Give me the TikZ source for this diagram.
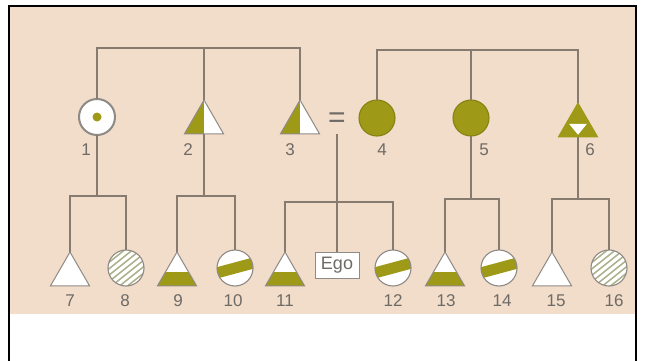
\documentclass[tikz,border=0pt]{standalone}
\usepackage{fontspec}
\setmainfont{Liberation Sans}
\usetikzlibrary{shapes.geometric}
\definecolor{kinbg}{HTML}{F1DDC9}
\definecolor{kinolive}{HTML}{9E9916}
\definecolor{kindark}{HTML}{878312}
\definecolor{kinline}{HTML}{877B70}
\definecolor{kinring}{HTML}{8E8A86}
\definecolor{kintext}{HTML}{6E6A66}
\definecolor{kinhatch}{HTML}{AEB28C}
\tikzset{
  kin/.style={draw=kinline,line width=1.2pt},
  fem/.style={circle,draw=kinring,line width=1.1pt,fill=white,minimum size=36pt,inner sep=0pt,outer sep=0pt},
  mal/.style={regular polygon,regular polygon sides=3,draw=kinring,line width=1pt,fill=white,minimum size=45pt,inner sep=0pt,outer sep=0pt},
  dotted fem/.style={fem,line width=2pt,path picture={\fill[kinolive] (path picture bounding box.center) circle (4.5);}},
  full fem/.style={fem,fill=kinolive,draw=kindark},
  half mal/.style={mal,path picture={\fill[kinolive] (path picture bounding box.south west) rectangle (path picture bounding box.north);}},
  low mal/.style={mal,path picture={\fill[kinolive] (path picture bounding box.south west) rectangle ([yshift=14pt]path picture bounding box.south east);}},
  vee mal/.style={mal,fill=kinolive,draw=kinolive,path picture={\fill[white] ([shift={(-9,13)}]path picture bounding box.south) -- ([shift={(9,13)}]path picture bounding box.south) -- ([shift={(0,2)}]path picture bounding box.south) -- cycle;}},
  band fem/.style={fem,path picture={\begin{scope}[shift={(path picture bounding box.center)}]
      \fill[kinolive] (-22.7,-11.8) -- (25.6,1.2) -- (22.7,11.8) -- (-25.6,-1.2) -- cycle;
    \end{scope}}},
  hatch fem/.style={fem,path picture={\begin{scope}[shift={(path picture bounding box.center)}]
      \foreach \k in {-48,-40,...,48} \draw[kinhatch,line width=1.5pt] (\k-25,-20) -- (\k+25,20);
    \end{scope}}},
  egobox/.style={draw=kinring,line width=1pt,fill=white,minimum width=44pt,minimum height=26pt,inner sep=0pt,text=kintext,font=\fontsize{18}{18}\selectfont},
  num/.style={inner sep=0pt,text=kintext,font=\fontsize{17}{17}\selectfont}
}
\begin{document}
\begin{tikzpicture}[x=1pt,y=1pt]
  \useasboundingbox (0,0) rectangle (645,-361);
  \fill[white] (0,0) rectangle (645,-361);
  \fill[kinbg] (10,-7) rectangle (635,-314);
  \draw[black,line width=2.5pt] (9,-361) -- (9,-6) -- (636,-6) -- (636,-361);

  % parents' generation
  \node[dotted fem] (p1) at (97,-117) {};
  \node[half mal] (p2) at (204,-122.5) {};
  \node[half mal] (p3) at (300,-122.5) {};
  \node[num,font=\fontsize{30}{30}\selectfont] (eq) at (337,-120) {=};
  \node[full fem] (p4) at (377,-118) {};
  \node[full fem] (p5) at (471,-118) {};
  \node[vee mal] (p6) at (578,-125.5) {};

  \node[num] (l1) at (86,-150) {1};
  \node[num] (l2) at (188,-150) {2};
  \node[num] (l3) at (290,-150) {3};
  \node[num] (l4) at (382,-150) {4};
  \node[num] (l5) at (484,-150) {5};
  \node[num] (l6) at (590,-150) {6};

  % ego's generation
  \node[mal] (c7) at (70,-274.5) {};
  \node[hatch fem] (c8) at (126,-268) {};
  \node[low mal] (c9) at (177,-274.5) {};
  \node[band fem] (c10) at (235,-268) {};
  \node[low mal] (c11) at (285,-274.5) {};
  \node[egobox] (ego) at (337,-265.5) {Ego};
  \node[band fem] (c12) at (393,-268) {};
  \node[low mal] (c13) at (445,-274.5) {};
  \node[band fem] (c14) at (499,-268) {};
  \node[mal] (c15) at (552,-274.5) {};
  \node[hatch fem] (c16) at (609,-268) {};

  \node[num] (l7) at (70,-301) {7};
  \node[num] (l8) at (125,-301) {8};
  \node[num] (l9) at (178,-301) {9};
  \node[num] (l10) at (233,-301) {10};
  \node[num] (l11) at (285,-301) {11};
  \node[num] (l12) at (393,-301) {12};
  \node[num] (l13) at (446,-301) {13};
  \node[num] (l14) at (502,-301) {14};
  \node[num] (l15) at (556,-301) {15};
  \node[num] (l16) at (614,-301) {16};

  \coordinate (topL) at (204,-48);
  \coordinate (topR) at (471,-50);
  \coordinate (d1) at (97,-196);
  \coordinate (d2) at (204,-196);
  \coordinate (dE) at (337,-202);
  \coordinate (d5) at (471,-199);
  \coordinate (d6) at (578,-199);

  \draw[kin] (p1.north) |- (topL) -| (p3.north);
  \draw[kin] (p2.north) -- (topL);
  \draw[kin] (p4.north) |- (topR) -| (p6.north);
  \draw[kin] (p5.north) -- (topR);

  \draw[kin] (p1.south) -- (d1);
  \draw[kin] (c7.north) |- (d1) -| (c8.north);
  \draw[kin] (p2.south) -- (d2);
  \draw[kin] (c9.north) |- (d2) -| (c10.north);
  \draw[kin] ([yshift=-6pt]eq.south) -- (dE) -- (ego.north);
  \draw[kin] (c11.north) |- (dE) -| (c12.north);
  \draw[kin] (p5.south) -- (d5);
  \draw[kin] (c13.north) |- (d5) -| (c14.north);
  \draw[kin] (p6.south) -- (d6);
  \draw[kin] (c15.north) |- (d6) -| (c16.north);
\end{tikzpicture}
\end{document}
